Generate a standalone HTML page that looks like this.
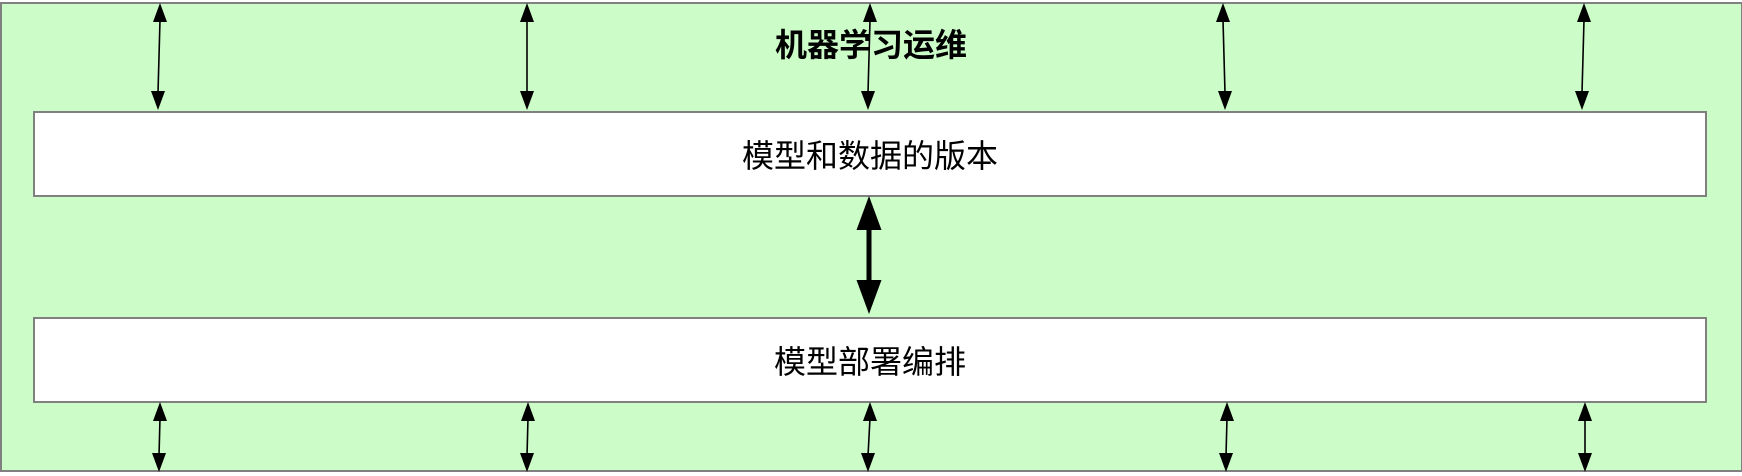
<!DOCTYPE html>
<html><head><meta charset="utf-8"><style>
html,body{margin:0;padding:0;background:#fff}
body{width:1742px;height:476px;position:relative;overflow:hidden;font-family:"Liberation Sans","Noto Sans CJK SC",sans-serif}
.outer{position:absolute;left:0;top:2px;width:1739px;height:466px;background:#ccfcc8;border:2px solid #808080}
.box{position:absolute;left:33px;width:1670px;height:82px;background:#fff;border:2px solid #808080;display:flex;align-items:center;justify-content:center;font-size:32px;color:#000}
.title{position:absolute;left:0;width:1742px;top:20px;text-align:center;font-size:32px;font-weight:bold}
svg{position:absolute;left:0;top:0}
</style></head><body>
<div class="outer"></div>
<div class="title">机器学习运维</div>
<div class="box" style="top:111px">模型和数据的版本</div>
<div class="box" style="top:317px">模型部署编排</div>
<svg width="1742" height="476">
<g stroke="#000" stroke-width="1.6">
<line x1="160" y1="20" x2="158" y2="93"/>
<line x1="527" y1="20" x2="527" y2="93"/>
<line x1="870" y1="20" x2="868" y2="93"/>
<line x1="1223" y1="20" x2="1225" y2="93"/>
<line x1="1584" y1="20" x2="1582" y2="93"/>
<line x1="160" y1="418" x2="159" y2="456"/>
<line x1="528" y1="418" x2="527" y2="456"/>
<line x1="870" y1="418" x2="868" y2="456"/>
<line x1="1227" y1="418" x2="1226" y2="456"/>
<line x1="1585" y1="418" x2="1585" y2="456"/>
</g>
<g fill="#000">
<path d="M160,3 l7,19 h-14z"/><path d="M158,110 l7,-19 h-14z"/>
<path d="M527,3 l7,19 h-14z"/><path d="M527,110 l7,-19 h-14z"/>
<path d="M870,3 l7,19 h-14z"/><path d="M868,110 l7,-19 h-14z"/>
<path d="M1223,3 l7,19 h-14z"/><path d="M1225,110 l7,-19 h-14z"/>
<path d="M1584,3 l7,19 h-14z"/><path d="M1582,110 l7,-19 h-14z"/>
<path d="M160,402 l7,19 h-14z"/><path d="M159,472 l7,-19 h-14z"/>
<path d="M528,402 l7,19 h-14z"/><path d="M527,472 l7,-19 h-14z"/>
<path d="M870,402 l7,19 h-14z"/><path d="M868,472 l7,-19 h-14z"/>
<path d="M1227,402 l7,19 h-14z"/><path d="M1226,472 l7,-19 h-14z"/>
<path d="M1585,402 l7,19 h-14z"/><path d="M1585,472 l7,-19 h-14z"/>
<rect x="866.5" y="226" width="5" height="58"/>
<path d="M869,196 L881.5,230 L856.5,230 Z"/>
<path d="M869,314 L881.5,280 L856.5,280 Z"/>
</g>
</svg>
</body></html>
